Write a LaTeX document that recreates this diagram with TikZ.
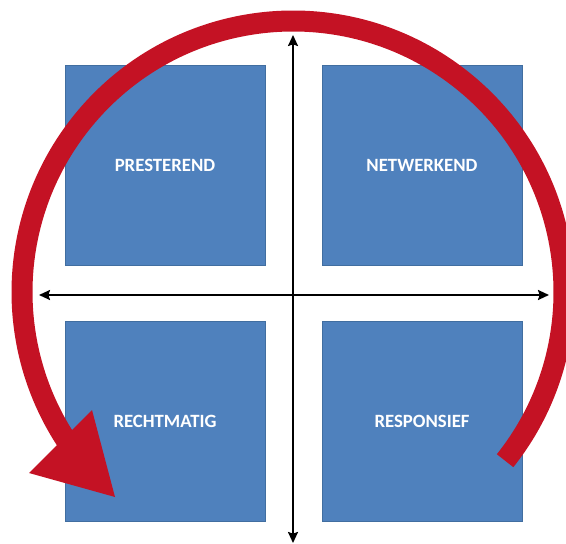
\documentclass[tikz,border=0pt]{standalone}
\usepackage{fontspec}
\usepackage{tikz}
\usetikzlibrary{arrows.meta}
\newfontfamily\quadfont{Carlito}
\definecolor{quadblue}{RGB}{79,129,189}
\definecolor{quadedge}{RGB}{65,110,160}
\definecolor{cyclered}{RGB}{196,18,36}
\tikzset{
  quad/.style={draw=quadedge, line width=0.6pt, fill=quadblue,
    minimum width=6cm, minimum height=6cm, inner sep=0pt,
    text=white, font=\quadfont\bfseries\fontsize{16}{19}\selectfont},
  axis/.style={line width=0.06cm, {Stealth[length=0.33cm,width=0.3cm,inset=0.05cm]}-{Stealth[length=0.33cm,width=0.3cm,inset=0.05cm]}},
  redarc/.style={draw=cyclered, line width=0.63cm}
}

\begin{document}
\begin{tikzpicture}[x=0.03cm,y=-0.03cm]
    \useasboundingbox (0,0) rectangle (566,544);
    % the four quadrants
    \node[quad] (prest) at (165,165) {PRESTEREND};
    \node[quad] (netw)  at (422,165) {NETWERKEND};
    \node[quad] (recht) at (165,421) {RECHTMATIG};
    \node[quad] (resp)  at (422,421) {RESPONSIEF};
    % axes
    \coordinate (top) at (293,35);
    \coordinate (bot) at (293,543);
    \coordinate (lft) at (39,295);
    \coordinate (rgt) at (549,295);
    \draw[axis] (top) -- (bot);
    \draw[axis] (lft) -- (rgt);
    % the big arrow round it all
    \coordinate (c) at (293,292);
    \draw[redarc] (c) ++(38.5:271) arc[start angle=38.5, end angle=-214, radius=271];
    \fill[cyclered] (92,410) -- (29,473) -- (115,497) -- cycle;
\end{tikzpicture}
\end{document}
